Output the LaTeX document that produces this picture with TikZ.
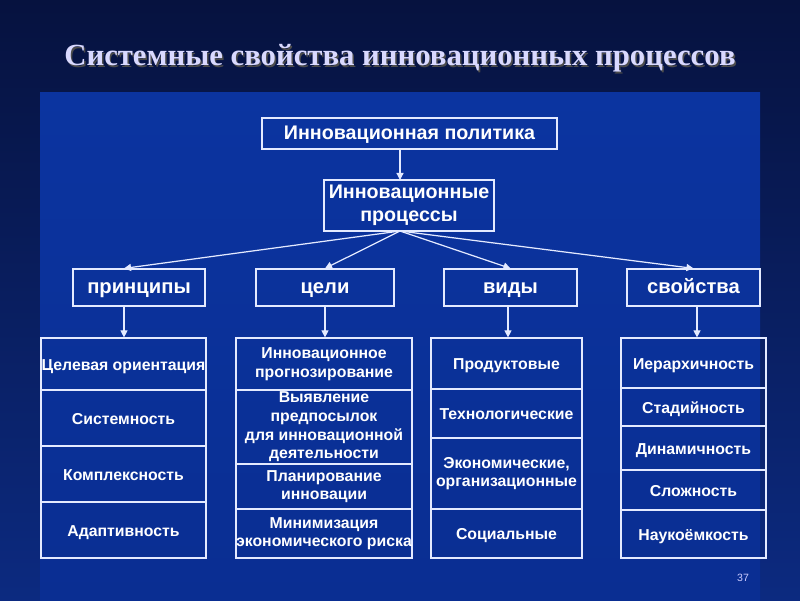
\documentclass[tikz,border=0pt]{standalone}
\usepackage{fontspec}
\setmainfont{Liberation Sans}
\newfontfamily\titlefont{Liberation Serif}
\usetikzlibrary{arrows.meta}
\definecolor{outerT}{HTML}{06123F}
\definecolor{outerB}{HTML}{0C2A80}
\definecolor{innerT}{HTML}{0B34A0}
\definecolor{innerB}{HTML}{0A2E92}
\definecolor{ln}{HTML}{E4EAFF}
\tikzset{
 box/.style={draw=ln,line width=0.7pt,text=white,font=\bfseries\fontsize{11.2}{13}\selectfont,align=center,inner sep=0pt},
 one/.style={text height=1.6ex,text depth=0.3ex},
 cell/.style={box,font=\bfseries\fontsize{9}{10.6}\selectfont},
 arr/.style={draw=ln,line width=0.7pt,-{Triangle[width=4pt,length=4pt]}}
}
\newcommand\cellbox[7][]{\node[cell,#1,minimum width=#5*0.02cm,minimum height=#6*0.02cm] (#2) at (#3,#4) {#7};}
\begin{document}
\begin{tikzpicture}[x=0.02cm,y=-0.02cm]
\useasboundingbox (0,0) rectangle (800,600);
\shade[top color=outerT,bottom color=outerB] (0,0) rectangle (800,600);
\shade[top color=innerT,bottom color=innerB] (40,92) rectangle (760,600);
\node[text=black!70,font=\titlefont\bfseries\fontsize{17.5}{20}\selectfont] at (401.5,60) {Системные свойства инновационных процессов};
\node[text=white!85!blue,font=\titlefont\bfseries\fontsize{17.5}{20}\selectfont] (title) at (400,58) {Системные свойства инновационных процессов};
\node[box,one,minimum width=295*0.02cm,minimum height=31*0.02cm] (pol) at (409.5,133.5) {Инновационная политика};
\node[box,minimum width=170*0.02cm,minimum height=51*0.02cm] (proc) at (409,205.5) {Инновационные\\процессы};
\tikzset{r2/.style={box,one,font=\bfseries\fontsize{11.5}{13}\selectfont,minimum height=37*0.02cm}}
\node[r2,minimum width=132*0.02cm] (p) at (139,287.5) {принципы};
\node[r2,minimum width=138*0.02cm] (c) at (325,287.5) {цели};
\node[r2,minimum width=133*0.02cm] (v) at (510.5,287.5) {виды};
\node[r2,minimum width=133*0.02cm] (s) at (693.5,287.5) {свойства};
\coordinate (pb) at (400,231);
\draw[arr] (400,149) -- (400,180);
\draw[arr] (pb) -- (p.north -| 124,0);
\draw[arr] (pb) -- (c.north);
\draw[arr] (pb) -- (v.north);
\draw[arr] (pb) -- (s.north);
% column 1
\cellbox[one]{a1}{123.5}{364}{165}{52}{Целевая ориентация}
\cellbox[one]{a2}{123.5}{418}{165}{56}{Системность}
\cellbox[one]{a3}{123.5}{474}{165}{56}{Комплексность}
\cellbox[one]{a4}{123.5}{530}{165}{56}{Адаптивность}
% column 2
\cellbox{b1}{324}{364}{176}{52}{Инновационное\\прогнозирование}
\cellbox{b2}{324}{427}{176}{74}{Выявление\\предпосылок\\для инновационной\\деятельности}
\cellbox{b3}{324}{486.5}{176}{45}{Планирование\\инновации}
\cellbox{b4}{324}{533.5}{176}{49}{Минимизация\\экономического риска}
% column 3
\cellbox[one]{c1}{506.5}{363.5}{151}{51}{Продуктовые}
\cellbox[one]{c2}{506.5}{413.5}{151}{49}{Технологические}
\cellbox{c3}{506.5}{473.5}{151}{71}{Экономические,\\организационные}
\cellbox[one]{c4}{506.5}{533.5}{151}{49}{Социальные}
% column 4
\cellbox[one]{d1}{693.5}{363}{145}{50}{Иерархичность}
\cellbox[one]{d2}{693.5}{407}{145}{38}{Стадийность}
\cellbox[one]{d3}{693.5}{448}{145}{44}{Динамичность}
\cellbox[one]{d4}{693.5}{490}{145}{40}{Сложность}
\cellbox[one]{d5}{693.5}{534}{145}{48}{Наукоёмкость}
\draw[arr] (p.south -| 124,0) -- (a1.north -| 124,0);
\draw[arr] (c.south) -- (b1.north -| c.south);
\draw[arr] (v.south -| 508,0) -- (c1.north -| 508,0);
\draw[arr] (s.south -| 697,0) -- (d1.north -| 697,0);
\node[text=white!80!blue,font=\fontsize{6}{7}\selectfont] (num) at (743,578) {37};
\end{tikzpicture}
\end{document}
